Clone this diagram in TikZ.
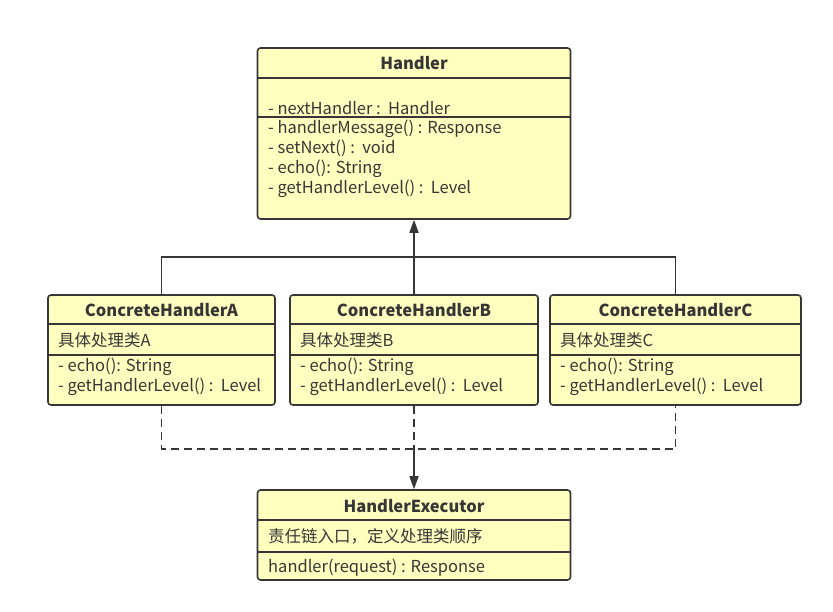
\documentclass[tikz,border=0pt]{standalone}
\usepackage{fontspec}
\setmainfont{Noto Sans CJK SC}
\usetikzlibrary{arrows.meta}
\definecolor{umlfill}{HTML}{FFFFC0}
\definecolor{umlline}{HTML}{363636}
\tikzset{
  classbox/.style={draw=umlline,fill=umlfill,line width=1.6pt,rounded corners=3pt,inner sep=0pt},
  divider/.style={draw=umlline,line width=1.6pt},
  member/.style={anchor=west,inner sep=0pt,text=umlline,font=\fontsize{16.5}{18}\selectfont},
  classname/.style={inner sep=0pt,text=umlline,font=\fontsize{16.5}{18}\selectfont\bfseries},
  link/.style={draw=umlline,line width=1.6pt},
}
\begin{document}
\begin{tikzpicture}[x=1pt,y=-1pt,>={Triangle[length=13pt,width=9pt]}]
    \useasboundingbox (0,0) rectangle (833,612);

    % Handler
    \node[classbox,minimum width=313pt,minimum height=171pt] (handler) at (414,133.5) {};
    \draw[divider] (258,78) -- (571,78);
    \draw[divider] (258,117) -- (571,117);
    \node[classname] (handlert) at (414,63.5) {Handler};
    \node[member] (hattr) at (268,108.5) {- nextHandler :\ \ Handler};
    \node[member] (hm1) at (268,128.5) {- handlerMessage() : Response};
    \node[member] (hm2) at (268,148.5) {- setNext() :\ \ void};
    \node[member] (hm3) at (268,168.5) {- echo(): String};
    \node[member] (hm4) at (268,188.5) {- getHandlerLevel() :\ \ Level};

    % concrete handlers
    \node[classbox,minimum width=227pt,minimum height=110pt] (ha) at (161.5,350) {};
    \node[classbox,minimum width=248pt,minimum height=110pt] (hb) at (414,350) {};
    \node[classbox,minimum width=251pt,minimum height=110pt] (hc) at (675.5,350) {};
    \foreach \cls/\cx/\lx/\rx/\tag in {ha/161.5/48/275/A,hb/414/290/538/B,hc/675.5/550/801/C}{
        \draw[divider] (\lx,324) -- (\rx,324);
        \draw[divider] (\lx,355) -- (\rx,355);
        \node[classname] (\cls t) at (\cx,310.5) {ConcreteHandler\tag};
        \node[member] (\cls d) at (\lx+10,340.5) {具体处理类\tag};
        \node[member] (\cls m1) at (\lx+10,366.5) {- echo(): String};
        \node[member] (\cls m2) at (\lx+10,386.5) {- getHandlerLevel() :\ \ Level};
    }

    % HandlerExecutor
    \node[classbox,minimum width=313pt,minimum height=90pt] (exec) at (414,535) {};
    \draw[divider] (258,520) -- (571,520);
    \draw[divider] (258,552) -- (571,552);
    \node[classname] (exect) at (414,506.5) {HandlerExecutor};
    \node[member] (execd) at (268,536.5) {责任链入口，定义处理类顺序};
    \node[member] (execm) at (268,567.5) {handler(request) : Response};

    % generalization
    \draw[link] (ha.north) -- ++(0,-37) -| (hc.north);
    \draw[link,->] (hb.north) -- (handler.south);

    % dependency
    \draw[link,dash pattern=on 8pt off 5pt] (ha.south) -- ++(0,43) -| (hc.south);
    \draw[link,dash pattern=on 8pt off 5pt] (hb.south) -- ++(0,43) coordinate (join);
    \draw[link,->] (join) -- (exec.north);
\end{tikzpicture}
\end{document}
